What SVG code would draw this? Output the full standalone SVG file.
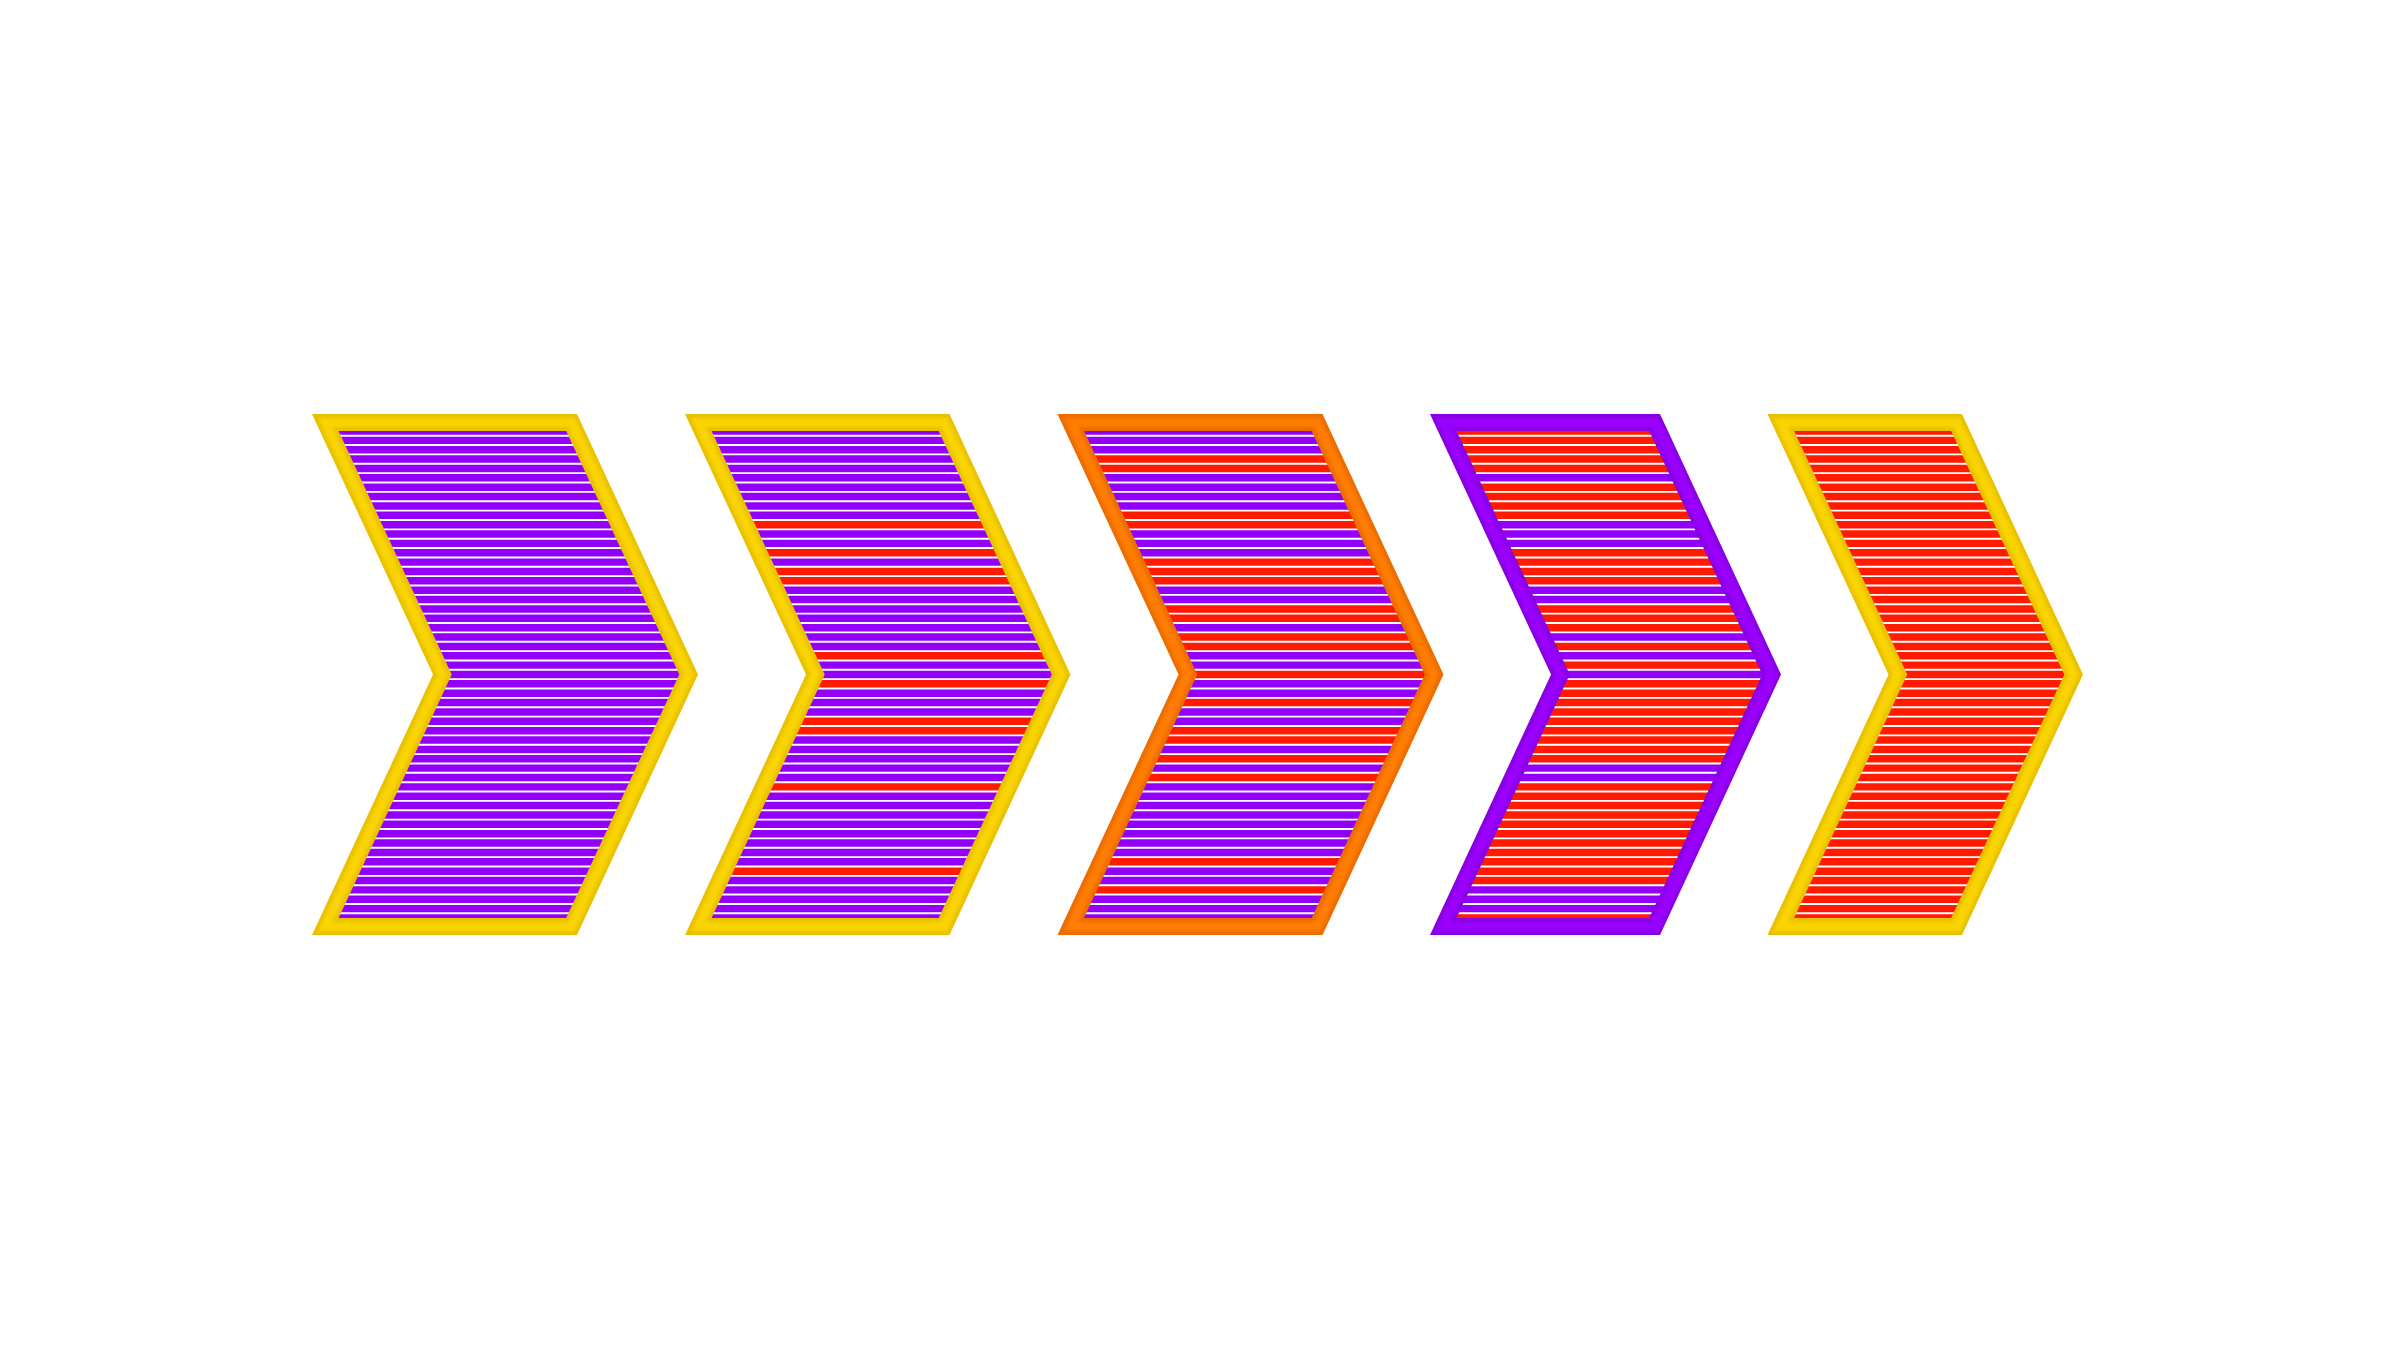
<svg xmlns="http://www.w3.org/2000/svg" xmlns:xlink="http://www.w3.org/1999/xlink" width="2400" height="1350" viewBox="0 0 2400 1350">
<style>
.bd{fill:none;stroke-width:17;stroke-linejoin:miter;stroke-miterlimit:10}
.bl{fill:none;stroke-width:9;stroke-linejoin:miter;stroke-miterlimit:10;filter:url(#soft)}
.yd{stroke:#E9C100}.yl{stroke:#F9D400}
.od{stroke:#EC6C00}.ol{stroke:#FF7D00}
.pd{stroke:#8A00E2}.pl{stroke:#9A00FF}
.sp{fill:#9300FA}.sr{fill:#FF1A00}
</style>
<defs>
<filter id="soft" x="-5%" y="-5%" width="110%" height="110%"><feGaussianBlur stdDeviation="1.6"/></filter>
<path id="wl" fill="#FFFFFF" d="M0,425.37h2400v1.9h-2400zm0,9.365h2400v1.9h-2400zm0,9.365h2400v1.9h-2400zm0,9.365h2400v1.9h-2400zm0,9.365h2400v1.9h-2400zm0,9.365h2400v1.9h-2400zm0,9.365h2400v1.9h-2400zm0,9.365h2400v1.9h-2400zm0,9.365h2400v1.9h-2400zm0,9.365h2400v1.9h-2400zm0,9.365h2400v1.9h-2400zm0,9.365h2400v1.9h-2400zm0,9.365h2400v1.9h-2400zm0,9.365h2400v1.9h-2400zm0,9.365h2400v1.9h-2400zm0,9.365h2400v1.9h-2400zm0,9.365h2400v1.9h-2400zm0,9.365h2400v1.9h-2400zm0,9.365h2400v1.9h-2400zm0,9.365h2400v1.9h-2400zm0,9.365h2400v1.9h-2400zm0,9.365h2400v1.9h-2400zm0,9.365h2400v1.9h-2400zm0,9.365h2400v1.9h-2400zm0,9.365h2400v1.9h-2400zm0,9.365h2400v1.9h-2400zm0,9.365h2400v1.9h-2400zm0,9.365h2400v1.9h-2400zm0,9.365h2400v1.9h-2400zm0,9.365h2400v1.9h-2400zm0,9.365h2400v1.9h-2400zm0,9.365h2400v1.9h-2400zm0,9.365h2400v1.9h-2400zm0,9.365h2400v1.9h-2400zm0,9.365h2400v1.9h-2400zm0,9.365h2400v1.9h-2400zm0,9.365h2400v1.9h-2400zm0,9.365h2400v1.9h-2400zm0,9.365h2400v1.9h-2400zm0,9.365h2400v1.9h-2400zm0,9.365h2400v1.9h-2400zm0,9.365h2400v1.9h-2400zm0,9.365h2400v1.9h-2400zm0,9.365h2400v1.9h-2400zm0,9.365h2400v1.9h-2400zm0,9.365h2400v1.9h-2400zm0,9.365h2400v1.9h-2400zm0,9.365h2400v1.9h-2400zm0,9.365h2400v1.9h-2400zm0,9.365h2400v1.9h-2400zm0,9.365h2400v1.9h-2400zm0,9.365h2400v1.9h-2400zm0,9.365h2400v1.9h-2400zm0,9.365h2400v1.9h-2400z"/>
<polygon id="s1" points="325.32,422.5 571.58,422.5 688.63,674.5 571.58,926.5 325.32,926.5 442.37,674.5"/>
<polygon id="s2" points="698.32,422.5 944.08,422.5 1061.13,674.5 944.08,926.5 698.32,926.5 815.37,674.5"/>
<polygon id="s3" points="1070.82,422.5 1317.08,422.5 1434.13,674.5 1317.08,926.5 1070.82,926.5 1187.87,674.5"/>
<polygon id="s4" points="1443.32,422.5 1654.58,422.5 1771.63,674.5 1654.58,926.5 1443.32,926.5 1560.37,674.5"/>
<polygon id="s5" points="1780.82,422.5 1956.58,422.5 2073.63,674.5 1956.58,926.5 1780.82,926.5 1897.87,674.5"/>
<clipPath id="c1"><use href="#s1"/></clipPath>
<clipPath id="c2"><use href="#s2"/></clipPath>
<clipPath id="c3"><use href="#s3"/></clipPath>
<clipPath id="c4"><use href="#s4"/></clipPath>
<clipPath id="c5"><use href="#s5"/></clipPath>
</defs>
<rect width="2400" height="1350" fill="#FFFFFF"/>
<g id="connectors"/>
<g id="chevron-1">
<g clip-path="url(#c1)">
<rect class="sp" x="300" y="400" width="420" height="550"/>
<use href="#wl"/>
</g>
<use href="#s1" class="bd yd"/>
<use href="#s1" class="bl yl"/>
</g>
<g id="chevron-2">
<g clip-path="url(#c2)">
<rect class="sp" x="670" y="400" width="420" height="550"/>
<rect class="sr" x="670" y="519.97" width="420" height="9.365"/>
<rect class="sr" x="670" y="548.065" width="420" height="9.365"/>
<rect class="sr" x="670" y="566.795" width="420" height="18.73"/>
<rect class="sr" x="670" y="651.08" width="420" height="9.365"/>
<rect class="sr" x="670" y="679.175" width="420" height="9.365"/>
<rect class="sr" x="670" y="716.635" width="420" height="18.73"/>
<rect class="sr" x="670" y="782.19" width="420" height="9.365"/>
<rect class="sr" x="670" y="866.475" width="420" height="9.365"/>
<use href="#wl"/>
</g>
<use href="#s2" class="bd yd"/>
<use href="#s2" class="bl yl"/>
</g>
<g id="chevron-3">
<g clip-path="url(#c3)">
<rect class="sp" x="1040" y="400" width="420" height="550"/>
<rect class="sr" x="1040" y="454.415" width="420" height="18.73"/>
<rect class="sr" x="1040" y="510.605" width="420" height="18.73"/>
<rect class="sr" x="1040" y="557.43" width="420" height="28.095"/>
<rect class="sr" x="1040" y="604.255" width="420" height="18.73"/>
<rect class="sr" x="1040" y="632.35" width="420" height="18.73"/>
<rect class="sr" x="1040" y="669.81" width="420" height="9.365"/>
<rect class="sr" x="1040" y="697.905" width="420" height="9.365"/>
<rect class="sr" x="1040" y="726" width="420" height="18.73"/>
<rect class="sr" x="1040" y="754.095" width="420" height="9.365"/>
<rect class="sr" x="1040" y="772.825" width="420" height="9.365"/>
<rect class="sr" x="1040" y="857.11" width="420" height="9.365"/>
<rect class="sr" x="1040" y="885.205" width="420" height="9.365"/>
<use href="#wl"/>
</g>
<use href="#s3" class="bd od"/>
<use href="#s3" class="bl ol"/>
</g>
<g id="chevron-4">
<g clip-path="url(#c4)">
<rect class="sr" x="1420" y="400" width="380" height="550"/>
<rect class="sp" x="1420" y="473.145" width="380" height="9.365"/>
<rect class="sp" x="1420" y="519.97" width="380" height="28.095"/>
<rect class="sp" x="1420" y="585.525" width="380" height="18.73"/>
<rect class="sp" x="1420" y="632.35" width="380" height="9.365"/>
<rect class="sp" x="1420" y="651.08" width="380" height="9.365"/>
<rect class="sp" x="1420" y="669.81" width="380" height="9.365"/>
<rect class="sp" x="1420" y="763.46" width="380" height="18.73"/>
<rect class="sp" x="1420" y="885.205" width="380" height="28.095"/>
<use href="#wl"/>
</g>
<use href="#s4" class="bd pd"/>
<use href="#s4" class="bl pl"/>
</g>
<g id="chevron-5">
<g clip-path="url(#c5)">
<rect class="sr" x="1760" y="400" width="340" height="550"/>
<use href="#wl"/>
</g>
<use href="#s5" class="bd yd"/>
<use href="#s5" class="bl yl"/>
</g>
</svg>
